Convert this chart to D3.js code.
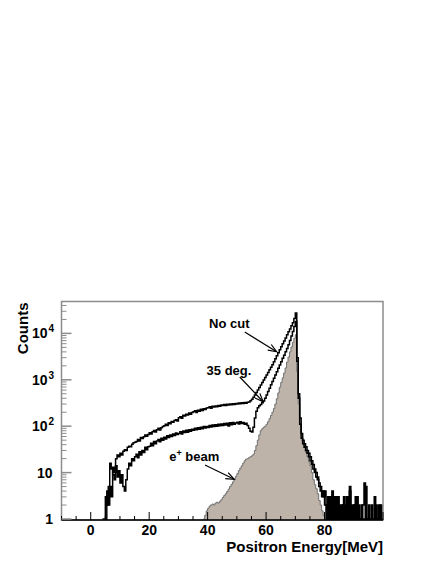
<!DOCTYPE html>
<html><head><meta charset="utf-8">
<script src="https://cdn.jsdelivr.net/npm/d3@7"></script>
<style>
body{margin:0;background:#fff;}
svg{display:block;}
text{font-family:"Liberation Sans",Arial,Helvetica,sans-serif;font-weight:bold;fill:#000;}
</style></head><body>
<svg id="c" width="436" height="564"></svg>
<script>
// ---- data: 0.5 MeV bins, lower edges 0 .. 99.5 (one row = 5 MeV) ----
const binStart = 0, binWidth = 0.5;
const noCut = [
 0,0,0,0,0,0,0,0,1,1,
 3,2,5,16,12,9,7,20,24,22,
 26,24,29,31,30,35,37,36,41,44,
 45,47,52,48,57,54,59,65,61,66,
 72,68,76,81,75,84,90,83,93,99,
 102,110,104,118,113,126,121,133,138,129,
 152,160,149,172,166,181,174,192,180,198,
 204,214,198,222,210,231,219,238,228,246,
 250,262,244,268,258,274,262,280,268,285,
 280,294,278,298,287,302,290,306,294,310,
 300,316,305,322,310,326,312,330,334,352,
 380,420,470,530,600,680,770,870,990,1120,
 1270,1440,1640,1860,2100,2450,2850,3300,3850,4450,
 5150,6000,6900,8000,9300,10800,12500,14600,17000,21000,
 27500,3000,500,150,70,50,42,36,30,26,
 22,18,15,12,10,8,6,5,4,3,
 4,2,1,3,0,4,1,2,0,3,
 1,2,1,3,0,2,1,5,1,2,
 0,3,1,2,0,1,2,6,1,0,
 2,1,0,1,3,0,1,2,1,0
];
const deg35 = [
 0,0,0,0,0,0,0,0,0,0,
 1,4,2,5,3,13,10,14,8,11,
 6,9,5,4,7,12,16,14,20,18,
 22,25,21,28,24,30,27,35,31,36,
 37,43,38,47,42,48,52,46,55,50,
 58,53,62,57,65,60,68,63,71,66,
 70,76,68,79,73,82,74,84,78,86,
 82,90,84,93,86,95,88,98,91,99,
 94,103,96,106,98,108,100,110,102,112,
 104,114,106,116,101,118,108,120,110,117,
 122,112,124,114,120,110,116,104,90,78,
 75,95,150,210,250,275,295,320,350,400,
 470,560,660,780,920,1080,1270,1500,1770,2080,
 2450,2900,3400,4000,4750,5700,7000,8800,11000,14000,
 18000,2500,400,110,55,42,35,30,26,22,
 18,15,12,10,8,7,5,4,3,4,
 2,1,3,0,2,1,0,3,1,2,
 0,1,2,0,1,3,0,4,1,0,
 2,1,3,0,1,2,0,1,5,1,
 0,1,2,0,1,2,0,1,2,0
];
const beam = [
 0,0,0,0,0,0,0,0,0,0,
 0,0,0,0,0,0,0,0,0,0,
 0,0,0,0,0,0,0,0,0,0,
 0,0,0,0,0,0,0,0,0,0,
 0,0,0,0,0,0,0,0,0,0,
 0,0,0,0,0,0,0,0,0,0,
 0,0,0,0,0,0,0,0,0,0,
 0,0,0,0,0,0,0,1,1.2,1.5,
 1.7,1.9,2.0,2.1,2.0,2.2,2.3,2.2,2.4,2.6,
 2.9,3.2,3.5,3.9,4.4,5.0,5.6,6.3,7.2,8.3,
 9.5,11,12.5,14,16,18,19.5,20,21,22,
 23,25,30,38,50,65,80,88,95,100,
 110,125,145,170,200,240,300,390,520,690,
 880,1100,1400,1800,2400,3100,4000,5100,6400,7900,
 9400,1500,300,110,70,50,35,27,22,17,
 14,10,7,5.5,4.5,3.5,2.5,2,1.5,1.2,
 0,0,0,0,0,0,0,0,0,0,
 0,0,0,0,0,0,0,0,0,0,
 0,0,0,0,0,0,0,0,0,0,
 0,0,0,0,0,0,0,0,0,0
];
const xTickLabels = [0, 20, 40, 60, 80];
const yTickExponents = [0, 1, 2, 3, 4];
const xTitle = "Positron Energy[MeV]";
const yTitle = "Counts";
// annotations in data units [energy, counts]
const annotations = [
 {label:"No cut", text:[47.4,16700], from:[52.7,10700], to:[63.6,4030]},
 {label:"35 deg.", text:[47.3,1570], from:[51,1150], to:[59,337]},
 {label:"beam", sup:true, text:[35.4,21.7], from:[39.1,14.6], to:[49.1,7.2]}
];

// ---- layout ----
const L = 61.5, R = 383, T = 301.5, B = 520;
const svg = d3.select("#c");
const x = d3.scaleLinear().domain([-10, 100]).range([L, R]);
const y = d3.scaleLog().domain([0.952, 48700]).range([B, T]);
const ymin = y.domain()[0];
const yv = v => y(Math.max(v, ymin));

svg.append("defs").append("clipPath").attr("id","clip").append("rect")
  .attr("x",L).attr("y",T).attr("width",R-L).attr("height",B-T);

// frame
svg.append("rect").attr("x",L).attr("y",T).attr("width",R-L).attr("height",B-T)
  .attr("fill","none").attr("stroke","#8c8c8c").attr("stroke-width",1.5);

function stepPath(vals, s, e, closeToBottom){
  let p = closeToBottom ? `M${x(binStart+s*binWidth)},${B}` : "";
  for(let i=s;i<=e;i++){
    const e0 = binStart + i*binWidth, e1 = e0 + binWidth;
    const yy = yv(vals[i]);
    if(i===s && !closeToBottom) p += `M${x(e0)},${yy}`; else p += `V${yy}`;
    p += `H${x(e1)}`;
  }
  if(closeToBottom) p += `V${B}Z`;
  return p;
}
function firstNZ(v){return v.findIndex(d=>d>0);}
function lastNZ(v){for(let i=v.length-1;i>=0;i--) if(v[i]>0) return i; return -1;}

const g = svg.append("g").attr("clip-path","url(#clip)");
{
  const s = firstNZ(beam), e = lastNZ(beam);
  g.append("path").attr("d",stepPath(beam,s,e,true)).attr("fill","#bdb3a9")
    .attr("stroke","#707070").attr("stroke-width",1);
}
[noCut, deg35].forEach(vals=>{
  g.append("path").attr("d",stepPath(vals, firstNZ(vals), vals.length-1, false))
   .attr("fill","none").attr("stroke","#000").attr("stroke-width",1.5);
});

// x axis
const xa = svg.append("g");
xa.append("line").attr("x1",L).attr("x2",R).attr("y1",B).attr("y2",B)
  .attr("stroke","#000").attr("stroke-width",1.5);
d3.range(-10, 101, 5).forEach(t=>{
  const major = (t % 20 === 0);
  xa.append("line").attr("x1",x(t)).attr("x2",x(t)).attr("y1",B).attr("y2",B-(major?8:4))
    .attr("stroke","#000").attr("stroke-width",1);
});
xTickLabels.forEach(t=>{
  xa.append("text").attr("x",x(t)).attr("y",535).attr("text-anchor","middle")
    .attr("font-size",14).text(t);
});
svg.append("text").attr("x",R).attr("y",552).attr("text-anchor","end")
  .attr("font-size",15).text(xTitle);

// y axis
const ya = svg.append("g");
yTickExponents.forEach(ex=>{
  const base = Math.pow(10,ex);
  ya.append("line").attr("x1",L).attr("x2",L+10).attr("y1",y(base)).attr("y2",y(base))
    .attr("stroke","#8c8c8c").attr("stroke-width",1.5);
  for(let m=2;m<=9;m++){
    const v = m*base;
    if(v>y.domain()[1]) break;
    ya.append("line").attr("x1",L).attr("x2",L+5).attr("y1",y(v)).attr("y2",y(v))
      .attr("stroke","#8c8c8c").attr("stroke-width",1);
  }
  const t = ya.append("text").attr("y",y(base)+5).attr("font-size",14);
  if(ex===0){ t.attr("x",53).attr("text-anchor","end").text("1"); }
  else if(ex===1){ t.attr("x",52.5).attr("text-anchor","end").text("10"); }
  else {
    t.attr("x",47.5).attr("text-anchor","end").text("10");
    ya.append("text").attr("x",48.5).attr("y",y(base)-1).attr("font-size",10).text(ex);
  }
});
svg.append("text").attr("transform",`translate(28,${T+1}) rotate(-90)`)
  .attr("text-anchor","end").attr("font-size",15).text(yTitle);

// annotations
annotations.forEach(a=>{
  const tx = x(a.text[0]), ty = y(a.text[1]);
  const t = svg.append("text").attr("x",tx).attr("y",ty+4.5).attr("text-anchor","middle").attr("font-size",13);
  if(a.sup){
    t.append("tspan").text("e");
    t.append("tspan").attr("font-size",9).attr("dy",-5).text("+");
    t.append("tspan").attr("dy",5).text(" "+a.label);
  } else t.text(a.label);
  const x1=x(a.from[0]), y1=y(a.from[1]), x2=x(a.to[0]), y2=y(a.to[1]);
  svg.append("line").attr("x1",x1).attr("y1",y1).attr("x2",x2).attr("y2",y2)
    .attr("stroke","#000").attr("stroke-width",1.2);
  const ang = Math.atan2(y2-y1,x2-x1), hl = 9, hw = 0.38;
  const p = `M${x2-hl*Math.cos(ang-hw)},${y2-hl*Math.sin(ang-hw)}L${x2},${y2}L${x2-hl*Math.cos(ang+hw)},${y2-hl*Math.sin(ang+hw)}`;
  svg.append("path").attr("d",p).attr("fill","none").attr("stroke","#000").attr("stroke-width",1.2);
});
</script></body></html>
